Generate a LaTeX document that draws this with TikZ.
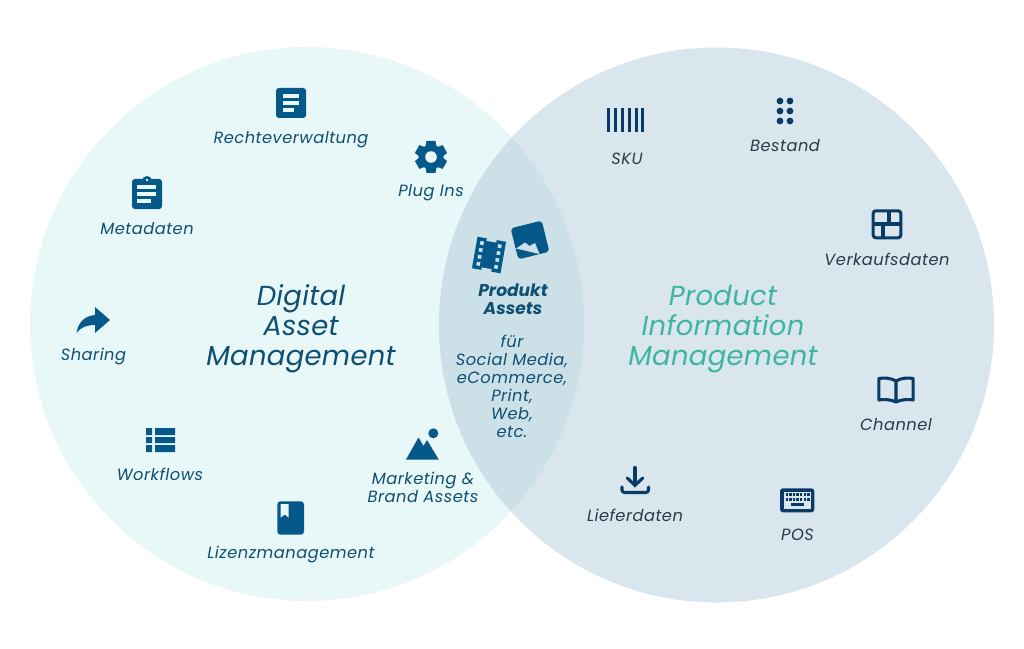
\documentclass[tikz,border=0pt]{standalone}
\usepackage{fontspec}
\setmainfont{Poppins}
\definecolor{damfill}{HTML}{E8F7F7}
\definecolor{pimfill}{HTML}{D9E6EE}
\definecolor{overlapfill}{HTML}{CCE0E8}
\definecolor{damtext}{HTML}{0E4F72}
\definecolor{pimtext}{HTML}{2C3A47}
\definecolor{damicon}{HTML}{05598A}
\definecolor{pimicon}{HTML}{0A3A66}
\definecolor{pimtitle}{HTML}{3FB5A0}
\tikzset{
  lab/.style={align=center,inner sep=0pt,font=\fontsize{12.2}{13.5}\selectfont\itshape\addfontfeatures{LetterSpace=3}},
  damlab/.style={lab,text=damtext},
  pimlab/.style={lab,text=pimtext},
  midlab/.style={lab,text=damtext},
  midbold/.style={align=center,inner sep=0pt,text=damtext,font=\fontsize{12.8}{13.5}\selectfont\bfseries\itshape},
  bigtitle/.style={align=center,inner sep=0pt,font=\fontsize{20.6}{22.5}\selectfont\itshape\addfontfeatures{LetterSpace=1}},
  dicon/.style={fill=damicon,draw=none},
  picon/.style={fill=pimicon,draw=none},
  pline/.style={draw=pimicon,line width=2.3pt,fill=none},
  wline/.style={draw=damfill,line width=2.5pt,line cap=butt},
}
\begin{document}
\begin{tikzpicture}[x=0.75pt,y=-0.75pt]
\useasboundingbox (0,0) rectangle (1024,649);
\fill[white] (0,0) rectangle (1024,649);
% circles
\fill[damfill] (307,324) circle (277);
\fill[pimfill] (716.5,325) circle (277.5);
\begin{scope}
  \clip (307,324) circle (277);
  \fill[overlapfill] (716.5,325) circle (277.5);
\end{scope}
% titles
\node[bigtitle,text=damtext] (dam) at (301,328.5) {Digital\\Asset\\Management};
\node[bigtitle,text=pimtitle] (pim) at (723,329) {Product\\Information\\Management};
% Rechteverwaltung icon
\fill[dicon,rounded corners=2.2pt] (276,88) rectangle (306,118);
\draw[wline] (283,96) -- (299,96) (283,103) -- (299,103) (283,110) -- (294,110);
\node[damlab] (recht) at (291,139.5) {Rechteverwaltung};
% gear
\fill[dicon] (431,157) circle (12.5);
\foreach \a in {0,60,...,300}{
  \fill[dicon,rotate around={\a:(431,157)}] (426.5,141) -- (435.5,141) -- (437,150) -- (425,150) -- cycle;
}
\fill[damfill] (431,157) circle (5.8);
\node[damlab] (plug) at (431,193) {Plug Ins};
% clipboard
\fill[dicon,rounded corners=2.2pt] (132,179) rectangle (162,209);
\fill[dicon] (147,181) circle (5);
\fill[damfill] (147,180) circle (1.3);
\draw[wline] (137,187) -- (156,187) (137,194) -- (156,194) (137,201) -- (151,201);
\node[damlab] (meta) at (147,228.5) {Metadaten};
% share arrow
\fill[dicon] (110,320) -- (95,307) -- (95,315) .. controls (84,316) and (78,323) .. (76.5,333) .. controls (81,327) and (87,325) .. (95,325) -- (95,333) -- cycle;
\node[damlab] (share) at (93.5,356.5) {Sharing};
% workflows
\fill[dicon] (146,428) rectangle (152,435) (155,428) rectangle (175,435)
  (146,437) rectangle (152,443) (155,437) rectangle (175,443)
  (146,445) rectangle (152,452) (155,445) rectangle (175,452);
\node[damlab] (work) at (160,474) {Workflows};
% mountains
\fill[dicon] (406,459.5) -- (418.5,437.5) -- (423.5,446) -- (427,440) -- (438.7,459.5) -- cycle;
\fill[dicon] (433.3,433.3) circle (5);
\node[damlab] (market) at (423,487) {Marketing \&\\Brand Assets};
% licence book
\fill[dicon,rounded corners=2.4pt] (277.3,501.3) rectangle (304,534.7);
\fill[damfill] (280.7,504.2) -- (288.7,504.2) -- (288.7,517.5) -- (284.7,514.5) -- (280.7,517.5) -- cycle;
\node[damlab] (lizenz) at (291,554.5) {Lizenzmanagement};
% film icon
\begin{scope}[shift={(489,255)},rotate=-10]
  \fill[dicon] (-14.5,-16) rectangle (14.5,16);
  \foreach \yy in {-10.5,-3.5,3.5,10.5}{
    \fill[overlapfill] (-10.8,\yy-1.8) rectangle (-7.2,\yy+1.8);
    \fill[overlapfill] (7.2,\yy-1.8) rectangle (10.8,\yy+1.8);
  }
  \fill[overlapfill] (-5,-16.5) rectangle (5,-13.5);
  \fill[overlapfill] (-5,13.5) rectangle (5,16.5);
\end{scope}
% image icon
\begin{scope}[shift={(530,240)},rotate=14]
  \fill[dicon,rounded corners=2.5pt] (-16,-16) rectangle (16,16);
\end{scope}
\fill[overlapfill] (516,248.5) -- (525,242.5) -- (529.5,246) -- (535,243) -- (539.5,254) -- cycle;
% Produkt assets
\node[midbold] (prod) at (513,299.5) {Produkt\\Assets};
\node[midlab] (fuer) at (512,386.5) {für\\Social Media,\\eCommerce,\\Print,\\Web,\\etc.};
% SKU
\foreach \xx in {607,614,621,628,635,641}{
  \fill[picon] (\xx,108.3) rectangle (\xx+3.3,132);
}
\node[pimlab] (sku) at (627,158.5) {SKU};
% Bestand
\foreach \xx in {780,790}{\foreach \yy in {101,111,121}{
  \fill[picon] (\xx,\yy) circle (3.4);
}}
\node[pimlab] (best) at (785,146) {Bestand};
% Verkaufsdaten
\draw[pline,rounded corners=2pt] (873.2,210.8) rectangle (900.8,237.8);
\draw[pline] (889,210.8) -- (889,224) (883,224) -- (883,237.8) (873.2,224) -- (900.8,224);
\node[pimlab] (verk) at (887,259.5) {Verkaufsdaten};
% Channel book
\draw[pline,line join=round] (896,381) .. controls (891,378) and (884,377.5) .. (878.8,378.5) -- (878.8,400) .. controls (884,399) and (891,399.5) .. (896,402) .. controls (901,399.5) and (908,399) .. (913.2,400) -- (913.2,378.5) .. controls (908,377.5) and (901,378) .. (896,381) -- cycle (896,381) -- (896,402);
\node[pimlab] (chan) at (896,425) {Channel};
% Lieferdaten
\draw[pline,line cap=round] (635,467.5) -- (635,484);
\draw[pline,line cap=round,line join=miter] (627.3,478) -- (635,485.5) -- (642.7,478);
\draw[pline,line cap=round,rounded corners=2pt] (622,487) -- (622,492.5) -- (648.5,492.5) -- (648.5,487);
\node[pimlab] (lief) at (635,515) {Lieferdaten};
% POS
\fill[picon,rounded corners=2.2pt] (780,488.3) rectangle (814.3,512.3);
\fill[pimfill] (784,491.7) rectangle (810.7,509.3);
\foreach \xx in {785.5,789.1,792.7,796.3,799.9,803.5,807.1}{
  \fill[picon] (\xx,493.3) rectangle (\xx+2.4,496);
  \fill[picon] (\xx,497.8) rectangle (\xx+2.4,500.5);
}
\fill[picon] (790.7,503.2) rectangle (804.3,506.3);
\node[pimlab] (pos) at (797.5,535) {POS};
\end{tikzpicture}
\end{document}
